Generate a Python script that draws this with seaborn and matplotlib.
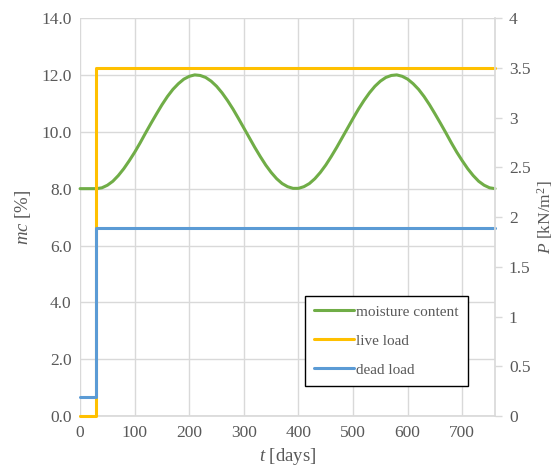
import matplotlib
matplotlib.use("Agg")
import matplotlib.pyplot as plt
import seaborn as sns
import pandas as pd

# time axis (days) and moisture content (%)
t_days = list(range(0, 770, 10))
moisture = [8.00, 8.00, 8.00, 8.00,
            8.03, 8.12, 8.26, 8.46, 8.70, 8.98, 9.28, 9.61, 9.96, 10.30,
            10.63, 10.95, 11.24, 11.49, 11.69, 11.85, 11.95, 12.00, 11.98, 11.91,
            11.78, 11.60, 11.37, 11.10, 10.80, 10.47, 10.13, 9.79, 9.45, 9.13,
            8.83, 8.57, 8.35, 8.18, 8.07, 8.01,
            8.01, 8.07, 8.18, 8.35, 8.57, 8.83, 9.13, 9.45, 9.79, 10.13,
            10.47, 10.80, 11.10, 11.37, 11.60, 11.78, 11.91, 11.98, 12.00, 11.95,
            11.85, 11.69, 11.49, 11.24, 10.95, 10.63, 10.30, 9.96, 9.61, 9.28,
            8.98, 8.70, 8.46, 8.26, 8.12, 8.03, 8.00]

# loads (kN/m2), step changes
load_t = [0, 30, 760]
live_load = [0.0, 3.5, 3.5]
dead_load = [0.19, 1.89, 1.89]

df_mc = pd.DataFrame({"t": t_days, "mc": moisture})
df_load = pd.DataFrame({"t": load_t, "live": live_load, "dead": dead_load})

sns.set_theme(style="white")
plt.rcParams["font.family"] = ["Liberation Serif", "DejaVu Serif"]
plt.rcParams["mathtext.fontset"] = "custom"
plt.rcParams["mathtext.rm"] = "Liberation Serif"
plt.rcParams["mathtext.it"] = "Liberation Serif:italic"

grey = "#595959"
grid_c = "#d9d9d9"
green = "#70AD47"
yellow = "#FFC000"
blue = "#5B9BD5"

fig, ax = plt.subplots(figsize=(5.6, 4.74), dpi=100)
fig.subplots_adjust(left=0.143, right=0.884, top=0.962, bottom=0.122)
ax2 = ax.twinx()

sns.lineplot(data=df_mc, x="t", y="mc", ax=ax, color=green, linewidth=2.2,
             label="moisture content", legend=False, clip_on=False)
sns.lineplot(data=df_load, x="t", y="live", ax=ax2, color=yellow, linewidth=2.2,
             drawstyle="steps-post", label="live load", legend=False, clip_on=False)
sns.lineplot(data=df_load, x="t", y="dead", ax=ax2, color=blue, linewidth=2.2,
             drawstyle="steps-post", label="dead load", legend=False, clip_on=False)

ax.set_xlim(0, 760)
ax.set_ylim(0, 14)
ax2.set_ylim(0, 4)
ax.set_xticks(range(0, 800, 100))
ax.set_yticks([0, 2, 4, 6, 8, 10, 12, 14])
ax.set_yticklabels([f"{v:.1f}" for v in [0, 2, 4, 6, 8, 10, 12, 14]])
ax2.set_yticks([0, 0.5, 1, 1.5, 2, 2.5, 3, 3.5, 4])
ax2.set_yticklabels(["0", "0.5", "1", "1.5", "2", "2.5", "3", "3.5", "4"])

ax.grid(True, color=grid_c, linewidth=1)
ax.set_axisbelow(True)
for a in (ax, ax2):
    for s in a.spines.values():
        s.set_visible(False)
ax2.spines["right"].set_visible(True)
ax2.spines["right"].set_color(grid_c)
ax.spines["bottom"].set_visible(True)
ax.spines["bottom"].set_color(grid_c)

ax.tick_params(axis="both", colors=grey, labelsize=12.5, length=0, pad=6)
ax2.tick_params(axis="y", labelsize=12.5, length=5, width=1,
                direction="out", pad=5, color=grid_c, labelcolor=grey)

ax.set_xlabel(r"$\it{t}$ [days]", fontsize=13.5, color=grey, labelpad=4)
ax.set_ylabel(r"$\it{mc}$ [%]", fontsize=13.5, color=grey, labelpad=6)
ax2.set_ylabel(r"$\it{P}$ [kN/m$^2$]", fontsize=12.5, color=grey, labelpad=3)

handles = ax.get_lines()[:1] + ax2.get_lines()[:2]
leg = ax2.legend(handles=handles, labels=["moisture content", "live load", "dead load"],
                 loc="upper left", bbox_to_anchor=(0.545, 0.376),
                 bbox_transform=fig.transFigure, frameon=True, fancybox=False,
                 edgecolor="black", fontsize=11, handlelength=2.6,
                 handletextpad=0.15, labelspacing=1.0, borderpad=0.6,
                 borderaxespad=0)
leg.get_frame().set_linewidth(1)
leg.get_frame().set_alpha(1)
for txt in leg.get_texts():
    txt.set_color(grey)

plt.savefig("out.png", dpi=100)
